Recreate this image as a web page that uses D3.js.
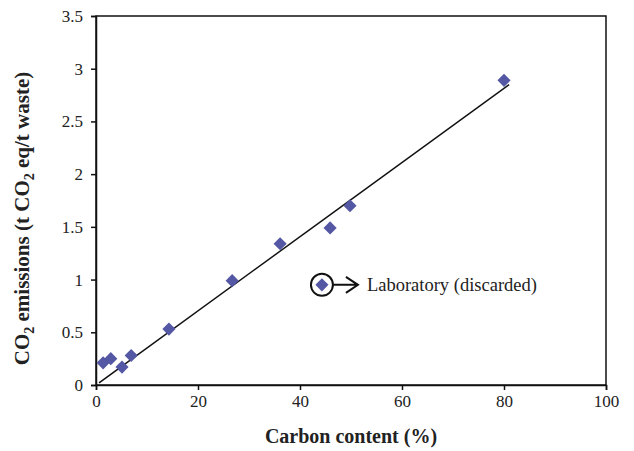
<!DOCTYPE html>
<meta charset="utf-8">
<body style="margin:0;background:#fff">
<script src="https://d3js.org/d3.v7.min.js"></script>
<script>
// data
var carbon    = [1.4, 2.9, 5.1, 6.9, 14.3, 26.7, 36.1, 45.9, 49.8, 80];
var emissions = [0.21, 0.25, 0.17, 0.28, 0.53, 0.99, 1.34, 1.49, 1.70, 2.89];
var discardedX = [44.3];
var discardedY = [0.95];
var fitX = [0.6, 81];
var fitY = [0.02, 2.85];
var xTicks = [0, 20, 40, 60, 80, 100];
var yTicks = [0, 0.5, 1, 1.5, 2, 2.5, 3, 3.5];

var serif = "'Liberation Serif', 'Times New Roman', serif";
var width = 634, height = 451;
var margin = {top: 16, right: 28, bottom: 66, left: 96};

var svg = d3.select("body").append("svg")
	.attr("width", width)
	.attr("height", height)
	.style("display", "block");

var x = d3.scaleLinear().domain([0, 100]).range([margin.left, width - margin.right]);
var y = d3.scaleLinear().domain([0, 3.5]).range([height - margin.bottom, margin.top]);

// frame
svg.append("rect")
	.attr("x", x(0)).attr("y", y(3.5))
	.attr("width", x(100) - x(0)).attr("height", y(0) - y(3.5))
	.attr("fill", "none").attr("stroke", "#111").attr("stroke-width", 1.5);

// axes
var xAxis = svg.append("g")
	.attr("transform", "translate(0," + y(0) + ")")
	.call(d3.axisBottom(x).tickValues(xTicks).tickSize(5).tickPadding(5).tickFormat(d3.format("d")));
var yAxis = svg.append("g")
	.attr("transform", "translate(" + x(0) + ",0)")
	.call(d3.axisLeft(y).tickValues(yTicks).tickSize(5).tickPadding(8).tickFormat(function(d) { return d; }));
[xAxis, yAxis].forEach(function(a) {
	a.select(".domain").attr("stroke", "#111").attr("stroke-width", 1.5);
	a.selectAll(".tick line").attr("stroke", "#111").attr("stroke-width", 1.5);
	a.selectAll(".tick text")
		.style("font-family", serif).style("font-size", "17px").attr("fill", "#222");
});

// regression line
svg.append("line")
	.attr("x1", x(fitX[0])).attr("y1", y(fitY[0]))
	.attr("x2", x(fitX[1])).attr("y2", y(fitY[1]))
	.attr("stroke", "#111").attr("stroke-width", 1.5);

var diamond = d3.symbol().type(d3.symbolDiamond2).size(110);
var pts = carbon.map(function(c, i) { return [c, emissions[i]]; });
svg.selectAll(".pt")
	.data(pts)
	.enter().append("path")
		.attr("class", "pt")
		.attr("d", diamond)
		.attr("fill", "#5457a3")
		.attr("transform", function(d) { return "translate(" + x(d[0]) + "," + y(d[1]) + ")"; });

// discarded point, circled
var dx = x(discardedX[0]), dy = y(discardedY[0]);
svg.append("path")
	.attr("d", diamond)
	.attr("fill", "#5457a3")
	.attr("transform", "translate(" + dx + "," + dy + ")");
svg.append("circle")
	.attr("cx", dx).attr("cy", dy).attr("r", 11)
	.attr("fill", "none").attr("stroke", "#111").attr("stroke-width", 2);
svg.append("path")
	.attr("d", "M" + (dx + 11) + "," + dy + "H" + (dx + 36)
		+ "M" + (dx + 24) + "," + (dy - 8) + "L" + (dx + 36) + "," + dy + "L" + (dx + 24) + "," + (dy + 8))
	.attr("fill", "none").attr("stroke", "#111").attr("stroke-width", 2);
svg.append("text")
	.attr("x", dx + 45).attr("y", dy + 6)
	.style("font-family", serif).style("font-size", "18.5px").attr("fill", "#222")
	.text("Laboratory (discarded)");

// axis titles
svg.append("text")
	.attr("x", (x(0) + x(100)) / 2).attr("y", 443)
	.attr("text-anchor", "middle")
	.style("font-family", serif).style("font-size", "20px").style("font-weight", "bold").attr("fill", "#222")
	.text("Carbon content (%)");

var yl = svg.append("text")
	.attr("transform", "translate(29," + ((y(0) + y(3.5)) / 2 + 18) + ") rotate(-90)")
	.attr("text-anchor", "middle")
	.style("font-family", serif).style("font-size", "21px").style("font-weight", "bold").attr("fill", "#222");
yl.append("tspan").text("CO");
yl.append("tspan").attr("dy", 5).style("font-size", "14px").text("2");
yl.append("tspan").attr("dy", -5).text(" emissions (t CO");
yl.append("tspan").attr("dy", 5).style("font-size", "14px").text("2");
yl.append("tspan").attr("dy", -5).text(" eq/t waste)");
</script>
</body>
